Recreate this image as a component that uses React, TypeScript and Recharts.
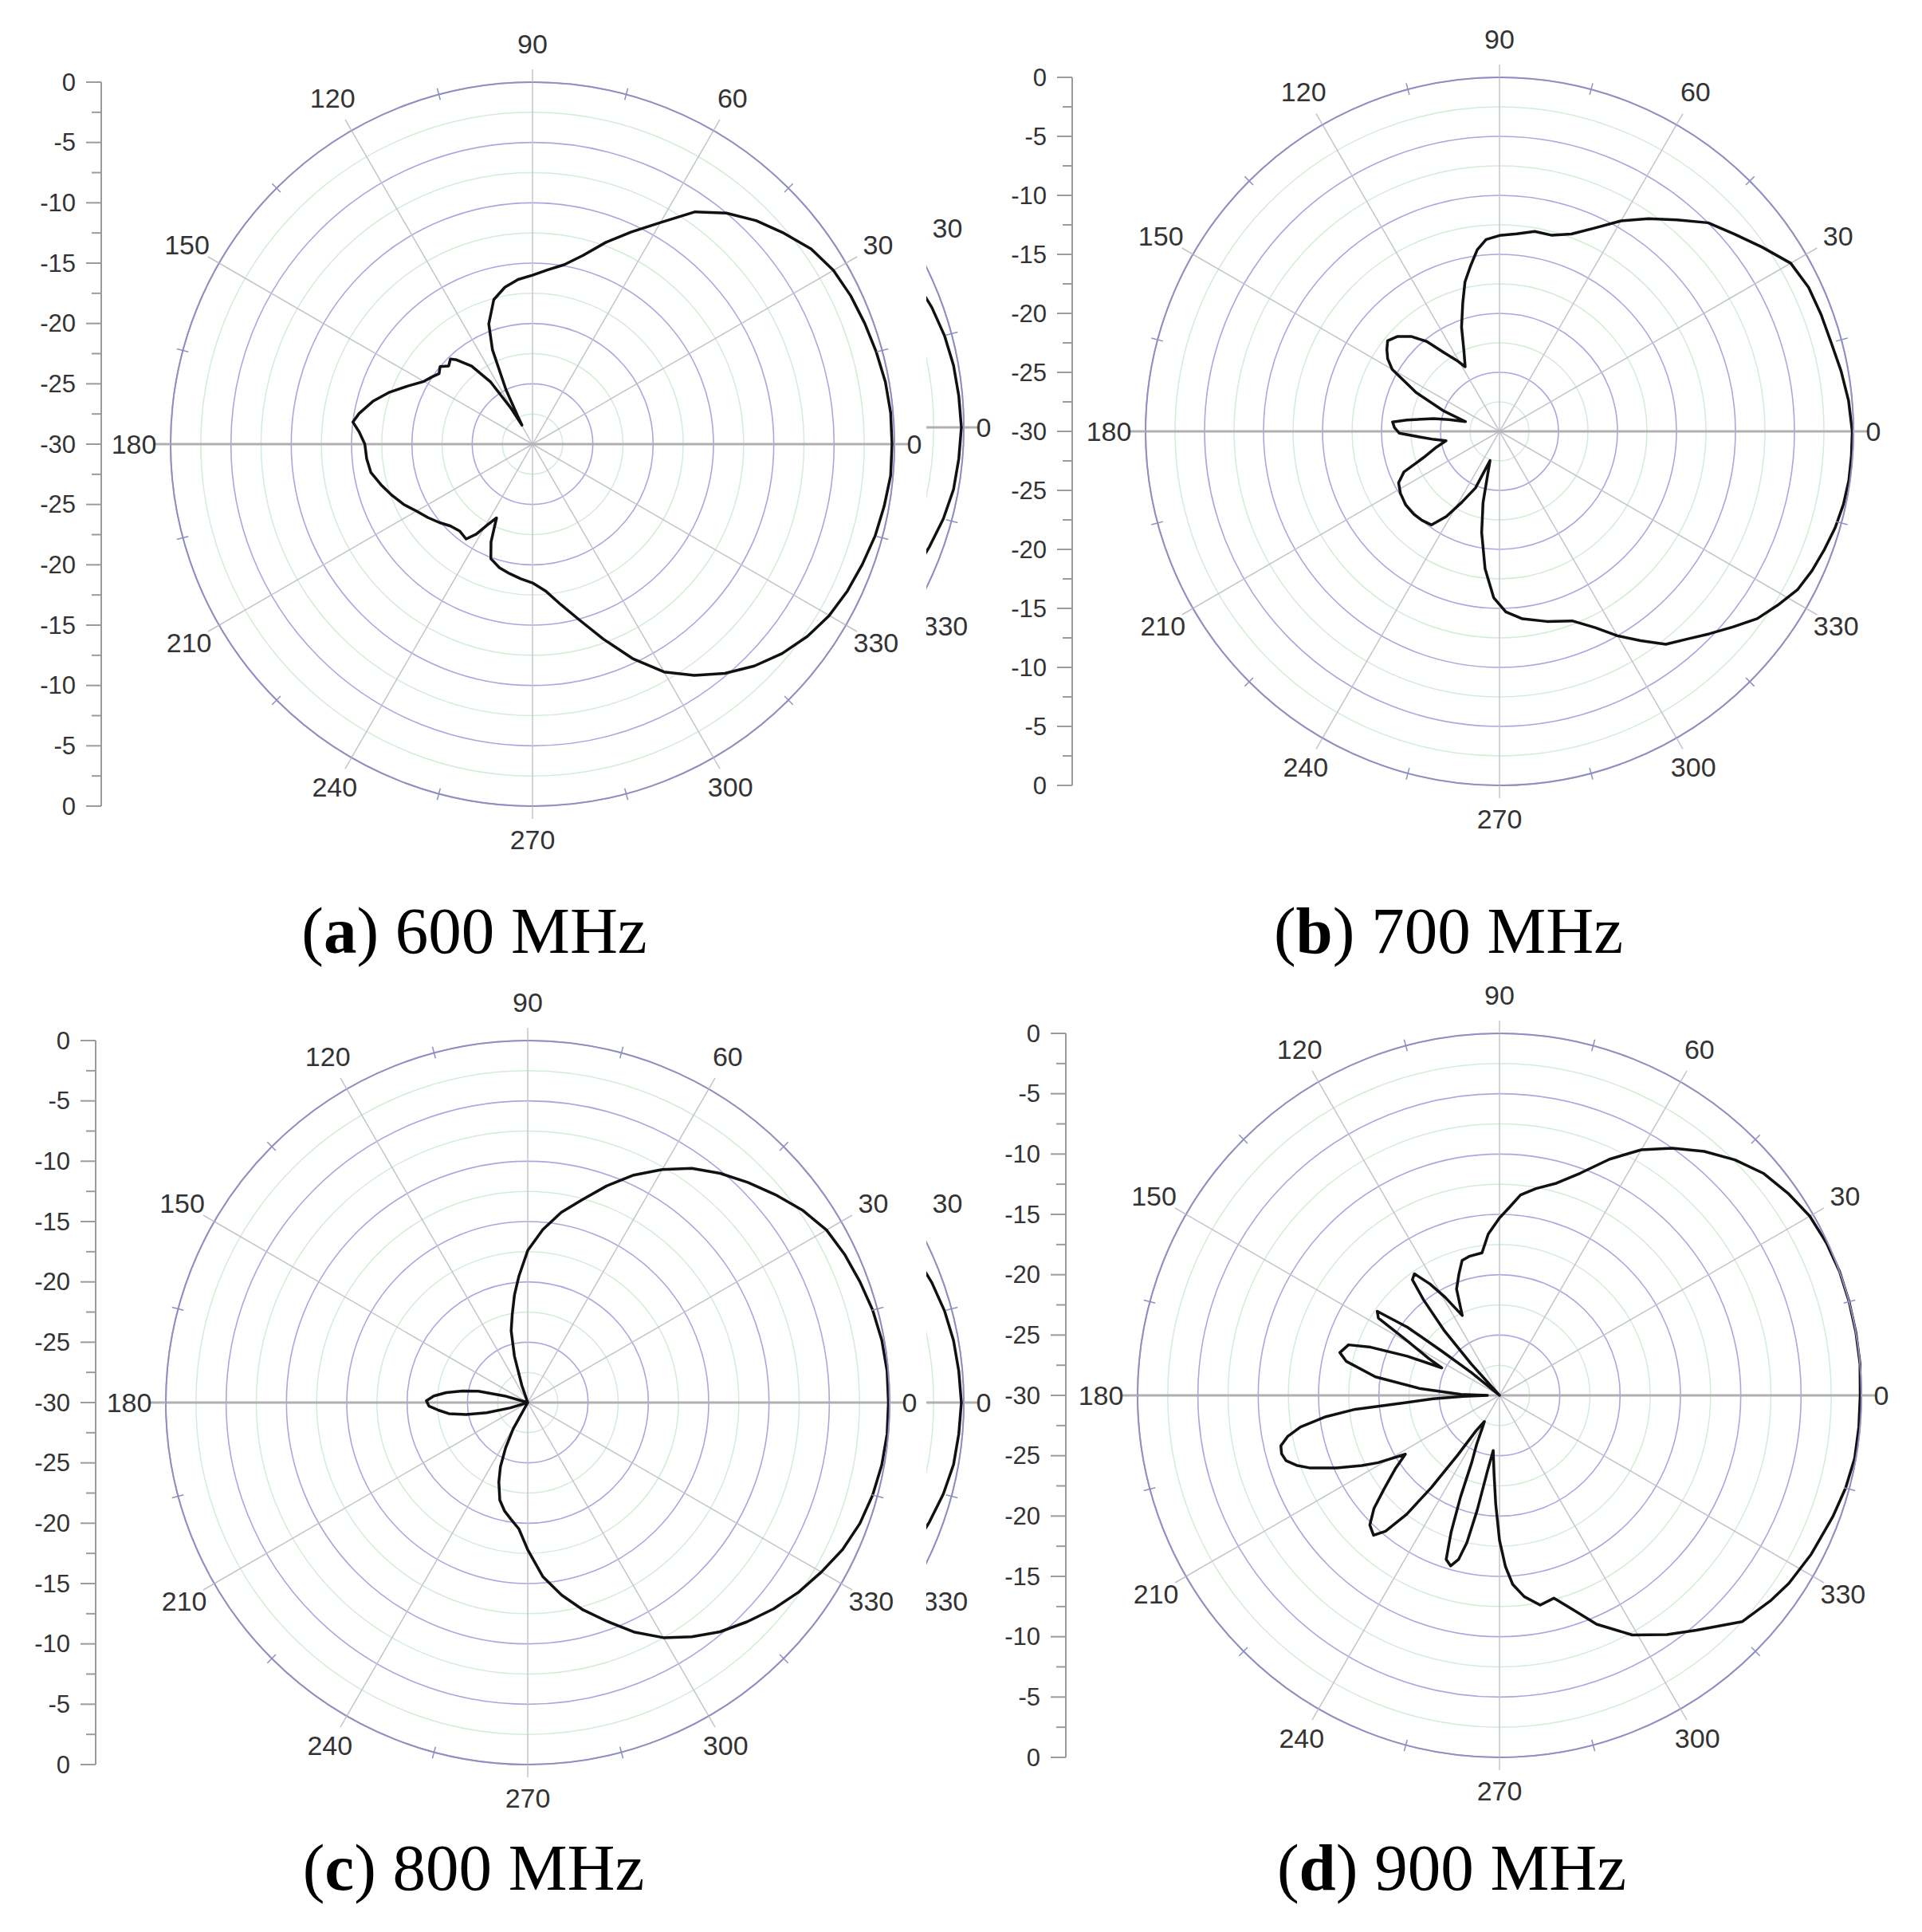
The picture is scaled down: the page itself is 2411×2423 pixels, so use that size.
import React from 'react';
import { RadarChart, Radar, PolarGrid, PolarAngleAxis, PolarRadiusAxis, LineChart, XAxis, YAxis } from 'recharts';

// ---------------- data (gain in dB, angle in degrees) ----------------
const angles600 = [
  0, 5, 10, 15, 20, 25, 30, 35, 40, 45,
  50, 55, 60, 65, 70, 75, 80, 85, 90, 95,
  100, 105, 110, 113, 116, 118, 119, 121, 124, 128,
  132, 134, 137, 140, 143, 146, 150, 155, 160, 165,
  170, 173, 176, 180, 185, 190, 195, 200, 205, 210,
  215, 220, 225, 230, 235, 238, 241, 244, 247, 250,
  255, 260, 265, 270, 275, 280, 285, 290, 295, 300,
  305, 310, 315, 320, 325, 330, 335, 340, 345, 350,
  355,
];
const gain600 = [
  -0.2, -0.2, -0.3, -0.5, -0.7, -0.9, -1.2, -1.8, -2.8, -3.8,
  -5.0, -6.5, -8.8, -10.6, -12.2, -13.8, -14.9, -15.5, -16.0, -16.3,
  -16.8, -17.6, -19.4, -21.5, -25.0, -27.5, -28.2, -26.5, -23.8, -21.8,
  -20.6, -20.2, -20.5, -20.0, -20.3, -20.0, -19.6, -18.6, -17.4, -16.3,
  -15.4, -15.0, -15.6, -16.1, -16.2, -16.4, -17.0, -17.6, -18.2, -18.9,
  -19.4, -19.9, -20.4, -20.6, -20.4, -21.2, -22.4, -23.2, -21.2, -19.9,
  -19.4, -19.1, -18.8, -18.5, -17.8, -16.5, -14.9, -12.8, -10.4, -8.2,
  -6.6, -5.2, -4.0, -3.0, -2.2, -1.6, -1.2, -0.9, -0.6, -0.4,
  -0.2,
];

const angles700 = [
  0, 5, 10, 15, 20, 25, 30, 35, 40, 45,
  50, 55, 60, 65, 70, 75, 80, 85, 90, 94,
  97, 100, 103, 106, 110, 114, 118, 121, 125, 129,
  133, 137, 141, 144, 147, 150, 155, 160, 164, 167,
  169, 173, 175, 178, 181, 184, 187, 190, 194, 199,
  203, 207, 212, 218, 224, 229, 234, 238, 242, 247,
  252, 255, 257, 260, 264, 268, 272, 277, 284, 291,
  296, 300, 304, 308, 312, 316, 320, 324, 328, 332,
  336, 340, 344, 348, 352, 356,
];
const gain700 = [
  -0.1, -0.3, -0.6, -0.9, -1.0, -1.1, -1.5, -2.8, -4.0, -5.0,
  -6.6, -8.0, -9.4, -11.0, -12.2, -12.8, -12.8, -13.2, -13.4, -13.7,
  -14.5, -15.8, -17.0, -18.7, -20.6, -22.6, -23.8, -23.0, -21.9, -20.2,
  -19.0, -18.2, -17.8, -18.2, -18.7, -19.5, -22.2, -25.0, -27.0, -25.6,
  -24.3, -22.1, -20.9, -21.1, -21.5, -23.2, -24.4, -25.4, -24.5, -23.2,
  -21.2, -20.4, -20.1, -19.9, -19.9, -20.0, -20.2, -21.5, -23.2, -24.8,
  -27.4, -26.0, -23.8, -21.3, -18.3, -15.9, -14.7, -14.0, -13.4, -12.8,
  -11.5, -10.0, -8.6, -7.1, -6.3, -5.3, -4.2, -3.0, -2.2, -1.4,
  -1.0, -0.7, -0.4, -0.2, -0.1, -0.1,
];

const angles800 = [
  0, 5, 10, 15, 20, 25, 30, 35, 40, 45,
  50, 55, 60, 65, 70, 75, 80, 85, 90, 94,
  97, 100, 103, 106, 109, 112, 135, 160, 164, 167,
  170, 173, 176, 179, 182, 185, 188, 191, 194, 197,
  200, 220, 238, 241, 244, 247, 250, 254, 258, 262,
  266, 270, 275, 280, 285, 290, 295, 300, 305, 310,
  315, 320, 325, 330, 335, 340, 345, 350, 355,
];
const gain800 = [
  -0.1, -0.1, -0.2, -0.4, -0.7, -1.0, -1.4, -2.2, -3.2, -4.2,
  -5.2, -6.3, -7.7, -9.2, -10.9, -12.6, -14.0, -15.6, -17.4, -19.5,
  -21.0, -22.6, -23.9, -26.0, -28.5, -30, -30, -30, -28.0, -25.8,
  -24.5, -23.2, -22.2, -21.6, -21.8, -22.6, -23.4, -24.8, -26.5, -28.5,
  -30, -30, -30, -27.5, -25.8, -24.2, -23.0, -21.6, -20.8, -20.2,
  -19.5, -17.8, -15.5, -13.8, -12.2, -10.7, -9.0, -7.5, -6.3, -5.2,
  -4.3, -3.4, -2.6, -1.9, -1.2, -0.7, -0.4, -0.2, -0.1,
];

const angles900 = [
  0, 5, 10, 15, 20, 25, 30, 35, 40, 45,
  50, 55, 60, 65, 70, 75, 80, 84, 87, 90,
  94, 97, 102, 105.5, 108.5, 112, 115, 119, 122, 125,
  127, 128.5, 130.5, 132, 134, 139, 141, 142.5, 143.5, 145.5,
  147.5, 149.5, 152.5, 154.5, 157, 159.5, 161.5, 165, 167.5, 171.5,
  175, 178.5, 180, 181.5, 183, 184.5, 185.5, 187, 189, 191,
  193, 195, 197, 199, 201, 204, 207, 209, 212, 215,
  219, 222, 225, 228, 230, 232, 233.5, 235, 236.5, 240,
  242, 245, 247.5, 249, 250.5, 252, 254, 256, 257.5, 259,
  261, 263.5, 266, 268, 270, 272, 274, 277, 281, 285,
  289, 293, 299, 305, 310, 317, 323, 327, 333, 340,
  345, 350, 355,
];
const gain900 = [
  -0.1, 0, 0, 0, 0, -0.1, -0.3, -0.8, -1.4, -2.4,
  -3.6, -5.0, -6.5, -8.4, -10.4, -11.8, -12.6, -13.3, -14.4, -15.3,
  -16.6, -18.1, -18.2, -18.4, -19.4, -20.5, -22.7, -20.7, -19.1, -17.7,
  -18.0, -19.9, -23.0, -26.5, -30, -30, -27.0, -24.0, -20.5, -17.7,
  -18.1, -21.2, -23.4, -24.7, -21.7, -18.6, -16.8, -16.3, -17.0, -19.6,
  -23.3, -26.8, -29.0, -27.0, -24.5, -22.0, -18.0, -15.5, -13.3, -12.1,
  -11.4, -11.3, -11.5, -12.2, -13.2, -15.2, -17.2, -18.5, -20.8, -19.5,
  -17.7, -16.0, -14.8, -14.4, -15.3, -17.5, -20.5, -24.0, -26.5, -27.5,
  -27.0, -25.5, -24.0, -21.0, -18.0, -15.7, -15.3, -16.0, -17.5, -20.3,
  -23.7, -25.4, -23.5, -21.0, -18.0, -15.8, -14.3, -13.2, -12.3, -12.6,
  -11.2, -9.4, -7.3, -5.8, -4.6, -2.5, -1.8, -1.4, -1.0, -0.6,
  -0.3, -0.1, -0.1,
];

// clipped fragment of a neighbouring plot, visible at the right edge of (a) and (c)
const fragmentAngles = [315, 320, 325, 330, 335, 340, 345, 350, 355, 0, 5, 10, 15, 20, 25, 30, 35, 40, 45];
const fragmentGain = [-4.6, -3.7, -2.8, -2.1, -1.5, -1.1, -0.7, -0.4, -0.3, -0.2, -0.3, -0.4, -0.6, -0.9, -1.3, -1.9, -2.6, -3.4, -4.3];

// axis ticks
const angleTicks = [0, 15, 30, 45, 60, 75, 90, 105, 120, 135, 150, 165, 180, 195, 210, 225, 240, 255, 270, 285, 300, 315, 330, 345];
const fragmentLabels = [0, 30, 330];
const spokeAngles = [30, 60, 90, 120, 150, 210, 240, 270, 300, 330];
const axisSpokes = [0, 180];
const radiusDomain = [-30, 0];
const ringMajorTicks = [-30, -25, -20, -15, -10, -5, 0];
const ringMinorTicks = [-27.5, -22.5, -17.5, -12.5, -7.5, -2.5];
const dbAxisTicks = [
  -30, -27.5, -25, -22.5, -20, -17.5, -15, -12.5, -10, -7.5, -5, -2.5,
  0, 2.5, 5, 7.5, 10, 12.5, 15, 17.5, 20, 22.5, 25, 27.5, 30,
];

// ---------------- helpers ----------------
const SANS = '"Liberation Sans", Arial, Helvetica, sans-serif';
const SERIF = '"Liberation Serif", "Times New Roman", Times, serif';

type Row = { angle: number; gain: number };
const toRows = (angles: number[], gains: number[]): Row[] => angles.map((a, i) => ({ angle: a, gain: gains[i] }));
// radius (px) of a dB level on the same linear radial scale as the radius axis
const ringRadius = (v: number, R: number) => (R * (v - radiusDomain[0])) / (radiusDomain[1] - radiusDomain[0]);

function renderAngleTick(props: any, cx: number, cy: number, R: number, onlyLabels?: number[]) {
  const value = props?.payload?.value;
  if (typeof value !== 'number' || value >= 360) return <g />;
  const deg = typeof props.payload.coordinate === 'number' ? props.payload.coordinate : value;
  const rad = (deg * Math.PI) / 180;
  const ux = Math.cos(rad);
  const uy = -Math.sin(rad);
  const major = value % 30 === 0;
  const horiz = value % 180 === 0;
  const r1 = major ? R : R - 7;
  const r2 = major ? R + (horiz ? 20 : 16) : R + 8;
  const off = value === 0 ? 25 : value === 180 ? 46 : 45 + 3 * Math.sin(rad);
  const showLabel = major && (!onlyLabels || onlyLabels.indexOf(value) >= 0);
  return (
    <g>
      <line
        x1={cx + ux * r1}
        y1={cy + uy * r1}
        x2={cx + ux * r2}
        y2={cy + uy * r2}
        stroke={major ? (horiz ? '#b0b0b0' : '#c4c4cc') : '#8f8fc0'}
        strokeWidth={major && horiz ? 3 : 1.5}
      />
      {showLabel && (
        <text
          x={cx + ux * (R + off)}
          y={cy + uy * (R + off)}
          textAnchor="middle"
          dominantBaseline="central"
          fontFamily={SANS}
          fontSize={34}
          fill="#333"
        >
          {value}
        </text>
      )}
    </g>
  );
}

function renderDbTick(props: any, axisX: number) {
  const { y, payload } = props;
  const v = payload?.value;
  if (typeof v !== 'number') return <g />;
  const major = Math.abs(v % 5) < 1e-6;
  const len = major ? 19 : 12;
  return (
    <g>
      <line x1={axisX - len} x2={axisX} y1={y} y2={y} stroke="#9b9b9b" strokeWidth={2} />
      {major && (
        <text x={axisX - 32} y={y} textAnchor="end" dominantBaseline="central" fontFamily={SANS} fontSize={31} fill="#333">
          {Math.abs(v) - 30}
        </text>
      )}
    </g>
  );
}

type PanelProps = {
  rows: Row[];
  left: number;
  top: number;
  width: number;
  height: number;
  cx: number;
  cy: number;
  R: number;
  clip?: { left: number; top: number; width: number; height: number };
  onlyLabels?: number[];
};

function PolarPanel({ rows, left, top, width, height, cx, cy, R, clip, onlyLabels }: PanelProps) {
  const minorRadii = ringMinorTicks.map((v) => ringRadius(v, R));
  const chart = (
    <RadarChart
      width={width}
      height={height}
      data={rows}
      cx={cx}
      cy={cy}
      innerRadius={0}
      outerRadius={R}
      startAngle={0}
      endAngle={360}
      margin={{ top: 0, right: 0, bottom: 0, left: 0 }}
    >
      <PolarRadiusAxis radiusAxisId="major" type="number" domain={radiusDomain} ticks={ringMajorTicks} tickCount={7} tick={false} axisLine={false} />
      <PolarGrid radiusAxisId="major" gridType="circle" radialLines={false} polarRadius={minorRadii} stroke="#d4ecd4" strokeWidth={1.5} />
      <PolarGrid radiusAxisId="major" gridType="circle" radialLines={false} stroke="#a8a8dd" strokeWidth={1.6} />
      <PolarGrid radiusAxisId="major" gridType="circle" polarAngles={spokeAngles} polarRadius={[]} stroke="#c4c4cc" strokeWidth={1.5} />
      <PolarGrid radiusAxisId="major" gridType="circle" polarAngles={axisSpokes} polarRadius={[]} stroke="#b0b0b0" strokeWidth={3} />
      <PolarAngleAxis
        dataKey="angle"
        type="number"
        domain={[0, 360]}
        ticks={angleTicks}
        tickCount={25}
        axisLineType="circle"
        axisLine={{ stroke: '#8f8fc0', strokeWidth: 2 }}
        tickLine={false}
        tick={(p: any) => renderAngleTick(p, cx, cy, R, onlyLabels)}
      />
      <Radar
        radiusAxisId="major"
        dataKey="gain"
        stroke="#111111"
        strokeWidth={3.5}
        strokeLinejoin="round"
        fill="none"
        fillOpacity={0}
        dot={false}
        isAnimationActive={false}
      />
    </RadarChart>
  );
  if (clip) {
    return (
      <div style={{ position: 'absolute', left: clip.left, top: clip.top, width: clip.width, height: clip.height, overflow: 'hidden' }}>
        <div style={{ position: 'absolute', left: left - clip.left, top: top - clip.top, width, height }}>{chart}</div>
      </div>
    );
  }
  return <div style={{ position: 'absolute', left, top, width, height }}>{chart}</div>;
}

function DbAxis({ left, axisX, y0, y1 }: { left: number; axisX: number; y0: number; y1: number }) {
  const pad = 30;
  const h = y1 - y0 + 2 * pad;
  const w = axisX + 10;
  return (
    <div style={{ position: 'absolute', left, top: y0 - pad, width: w, height: h }}>
      <LineChart width={w} height={h} data={[{ k: 0 }]} margin={{ top: pad, bottom: pad, left: 0, right: 10 }}>
        <XAxis dataKey="k" hide />
        <YAxis
          type="number"
          domain={[-30, 30]}
          ticks={dbAxisTicks}
          interval={0}
          width={axisX}
          tickLine={false}
          axisLine={{ stroke: '#9b9b9b', strokeWidth: 2 }}
          tick={(p: any) => renderDbTick(p, axisX)}
          allowDataOverflow
        />
      </LineChart>
    </div>
  );
}

const rows600 = toRows(angles600, gain600);
const rows700 = toRows(angles700, gain700);
const rows800 = toRows(angles800, gain800);
const rows900 = toRows(angles900, gain900);
const rowsFragment = toRows(fragmentAngles, fragmentGain);

function Caption({ x, y, letter, text }: { x: number; y: number; letter: string; text: string }) {
  return (
    <text x={x} y={y} textAnchor="middle" fontFamily={SERIF} fontSize={83} fill="#000">
      (<tspan fontWeight="bold">{letter}</tspan>) {text}
    </text>
  );
}

export default function App() {
  return (
    <div style={{ position: 'absolute', left: 0, top: 0, width: 2411, height: 2423, background: '#ffffff', overflow: 'hidden' }}>
      {/* (a) */}
      <DbAxis left={0} axisX={127} y0={103} y1={1011} />
      <PolarPanel rows={rows600} left={0} top={0} width={1200} height={1100} cx={668} cy={557} R={454} />
      <PolarPanel rows={rowsFragment} left={0} top={0} width={1300} height={1100} cx={755} cy={536} R={454} clip={{ left: 1162, top: 0, width: 100, height: 1100 }} onlyLabels={fragmentLabels} />
      {/* (b) */}
      <DbAxis left={1205} axisX={140} y0={97} y1={985} />
      <PolarPanel rows={rows700} left={1240} top={0} width={1171} height={1100} cx={641} cy={541} R={444} />
      {/* (c) */}
      <DbAxis left={0} axisX={120} y0={1305} y1={2213} />
      <PolarPanel rows={rows800} left={0} top={1210} width={1200} height={1100} cx={662} cy={549} R={454} />
      <PolarPanel rows={rowsFragment} left={0} top={1210} width={1300} height={1100} cx={755} cy={549} R={454} clip={{ left: 1162, top: 1210, width: 100, height: 1100 }} onlyLabels={fragmentLabels} />
      {/* (d) */}
      <DbAxis left={1200} axisX={137} y0={1296} y1={2204} />
      <PolarPanel rows={rows900} left={1240} top={1210} width={1171} height={1100} cx={641} cy={540} R={454} />

      <svg width={2411} height={2423} style={{ position: 'absolute', left: 0, top: 0, pointerEvents: 'none' }}>
        <Caption x={595} y={1195} letter="a" text="600 MHz" />
        <Caption x={1817} y={1195} letter="b" text="700 MHz" />
        <Caption x={594} y={2370} letter="c" text="800 MHz" />
        <Caption x={1821} y={2370} letter="d" text="900 MHz" />
      </svg>
    </div>
  );
}
